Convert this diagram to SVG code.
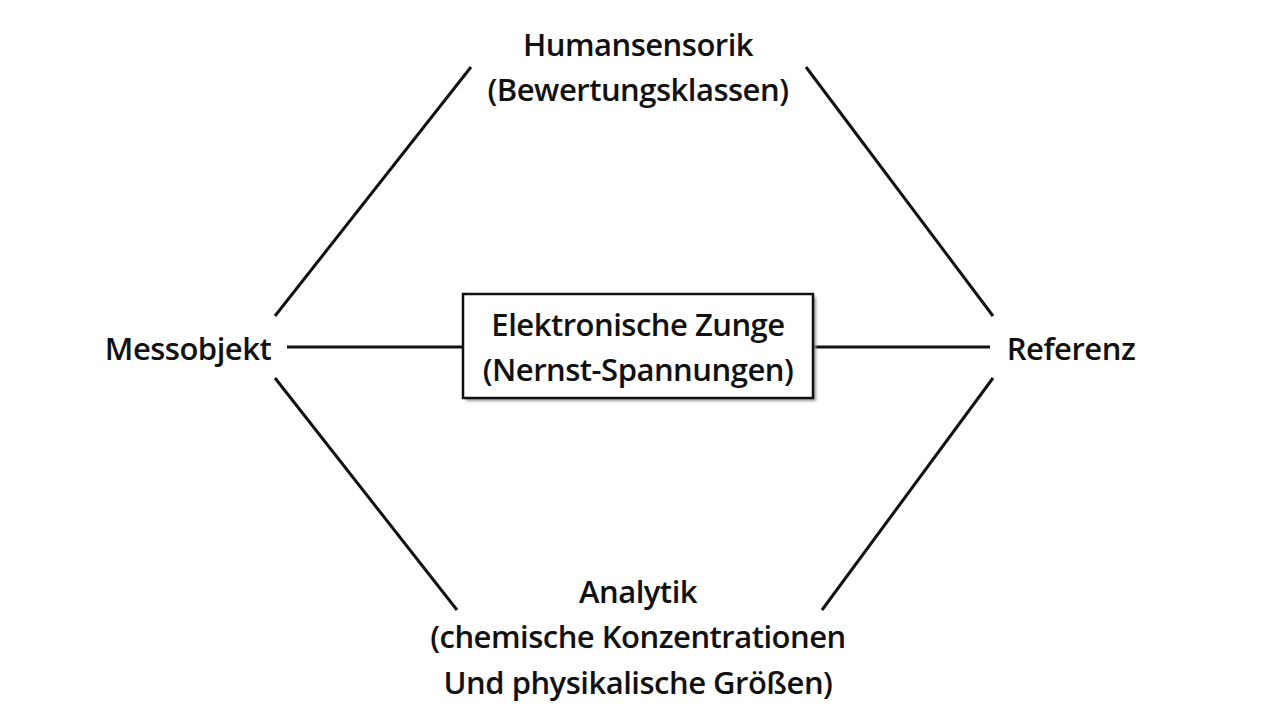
<svg xmlns="http://www.w3.org/2000/svg" width="1280" height="721" viewBox="0 0 1280 721">
<defs>
<style>
.t{font-family:"Open Sans","Noto Sans",sans-serif;font-size:31px;font-weight:600;fill:#111;text-anchor:middle;letter-spacing:-0.5px}
.c{stroke:#111;stroke-width:3;fill:none;stroke-linecap:butt}
</style>
<filter id="sh" x="-5%" y="-5%" width="115%" height="120%"><feGaussianBlur stdDeviation="1.5"/></filter>
</defs>
<rect width="1280" height="721" fill="#fff"/>
<g id="connectors">
<line class="c" x1="275" y1="316" x2="471" y2="67"/>
<line class="c" x1="806" y1="67" x2="993" y2="316"/>
<line class="c" x1="275" y1="378" x2="457" y2="610"/>
<line class="c" x1="993" y1="378" x2="822" y2="610"/>
<line class="c" x1="287" y1="347" x2="463" y2="347"/>
<line class="c" x1="813" y1="347" x2="990" y2="347"/>
</g>
<g id="humansensorik">
<text class="t" x="638" y="56">Humansensorik</text>
<text class="t" x="638" y="101">(Bewertungsklassen)</text>
</g>
<g id="messobjekt">
<text class="t" x="188" y="360">Messobjekt</text>
</g>
<g id="referenz">
<text class="t" x="1071" y="360">Referenz</text>
</g>
<g id="zunge">
<rect x="466" y="297" width="350" height="104" fill="#999" filter="url(#sh)"/>
<rect x="463" y="294" width="350" height="104" fill="#fff" stroke="#111" stroke-width="2.5"/>
<text class="t" x="638" y="336">Elektronische Zunge</text>
<text class="t" x="638" y="381">(Nernst-Spannungen)</text>
</g>
<g id="analytik">
<text class="t" x="638" y="603">Analytik</text>
<text class="t" x="638" y="648">(chemische Konzentrationen</text>
<text class="t" x="638" y="694">Und physikalische Größen)</text>
</g>
</svg>
